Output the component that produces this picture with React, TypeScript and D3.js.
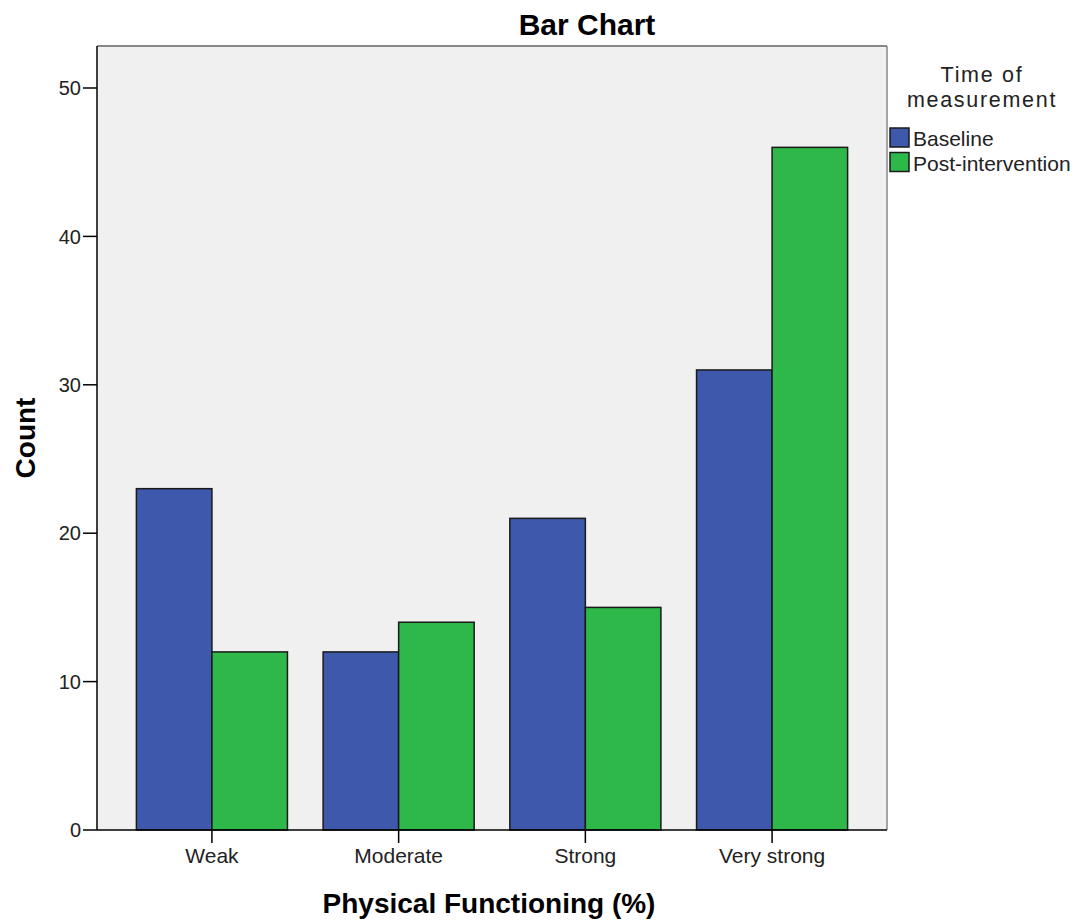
import React from "react";
import * as d3 from "d3";

const categories = ["Weak", "Moderate", "Strong", "Very strong"];
const seriesNames = ["Baseline", "Post-intervention"];
const baseline = [23, 12, 21, 31];
const postIntervention = [12, 14, 15, 46];
const yTicks = [0, 10, 20, 30, 40, 50];
const colors = ["#3e58ac", "#2fb84a"];

export default function App() {
  const W = 1075, H = 921;
  const x0 = 97, x1 = 887, yTop = 46, yBot = 830;
  const font = "'Liberation Sans', Arial, sans-serif";
  const x = d3.scaleBand<string>().domain(categories).range([x0, x1]).paddingInner(0.191).paddingOuter(0.211);
  const xs = d3.scaleBand<string>().domain(seriesNames).range([0, x.bandwidth()]);
  const y = d3.scaleLinear().domain([0, 52.83]).range([yBot, yTop]);
  const series = [baseline, postIntervention];
  return (
    <svg width={W} height={H} style={{ position: "absolute", left: 0, top: 0 }} fontFamily={font}>
      <rect x={0} y={0} width={W} height={H} fill="#fff" />
      <rect x={x0} y={yTop} width={x1 - x0} height={yBot - yTop} fill="#f0f0f0" />
      {categories.map((c, i) =>
        seriesNames.map((s, j) => {
          const v = series[j][i];
          return (
            <rect key={c + s} x={(x(c) as number) + (xs(s) as number)} y={y(v)} width={xs.bandwidth()}
              height={yBot - y(v)} fill={colors[j]} stroke="#1a1a1a" strokeWidth={1.5} />
          );
        })
      )}
      {/* frame */}
      <line x1={x0} x2={x1} y1={yTop} y2={yTop} stroke="#888" strokeWidth={2} />
      <line x1={x1} x2={x1} y1={yTop} y2={yBot} stroke="#888" strokeWidth={1.5} />
      <line x1={x0} x2={x0} y1={yTop} y2={yBot} stroke="#000" strokeWidth={1.5} />
      <line x1={x0} x2={x1} y1={yBot} y2={yBot} stroke="#000" strokeWidth={1.5} />
      {yTicks.map(t => (
        <g key={t}>
          <line x1={x0 - 14} x2={x0} y1={y(t)} y2={y(t)} stroke="#000" strokeWidth={1.5} />
          <text x={x0 - 16} y={y(t)} dy="0.36em" textAnchor="end" fontSize={20} fill="#222">{t}</text>
        </g>
      ))}
      {categories.map(c => {
        const cx = (x(c) as number) + x.bandwidth() / 2;
        return (
          <g key={c}>
            <line x1={cx} x2={cx} y1={yBot} y2={yBot + 13} stroke="#000" strokeWidth={1.5} />
            <text x={cx} y={863} textAnchor="middle" fontSize={21} fill="#222">{c}</text>
          </g>
        );
      })}
      <text x={587} y={35} textAnchor="middle" fontSize={30} fontWeight="bold" fill="#000">Bar Chart</text>
      <text x={489} y={913} textAnchor="middle" fontSize={28} fontWeight="bold" fill="#000">Physical Functioning (%)</text>
      <text transform={`translate(35,438) rotate(-90)`} textAnchor="middle" fontSize={28} fontWeight="bold" fill="#000">Count</text>
      <text x={982} y={82} textAnchor="middle" fontSize={21.5} letterSpacing={1.7} fill="#222">Time of</text>
      <text x={982} y={107} textAnchor="middle" fontSize={21.5} letterSpacing={1.7} fill="#222">measurement</text>
      {seriesNames.map((s, j) => (
        <g key={s}>
          <rect x={890} y={128 + j * 24.5} width={19} height={19} fill={colors[j]} stroke="#1a1a1a" strokeWidth={1.5} />
          <text x={913} y={146 + j * 24.5} fontSize={21} fill="#222">{s}</text>
        </g>
      ))}
    </svg>
  );
}
